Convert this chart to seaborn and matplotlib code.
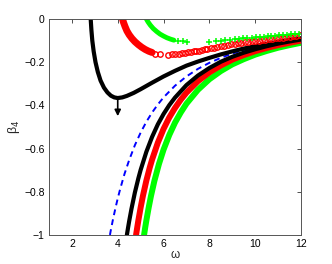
import matplotlib
matplotlib.use("Agg")
import matplotlib.pyplot as plt
import seaborn as sns

# lower branches
blue_x = [3.66, 3.7, 3.8, 3.9, 4.0, 4.1, 4.25, 4.3, 4.5, 4.75, 5.0, 5.25, 5.5, 5.75, 6.0, 6.5, 7.0, 7.5,
          8.0, 8.5, 9.0, 9.5, 10.0, 10.5, 11.0, 11.5, 12.0]
blue_y = [-1.0, -0.977, -0.924, -0.876, -0.831, -0.790, -0.734, -0.716, -0.653, -0.584, -0.526, -0.476,
          -0.433, -0.396, -0.363, -0.309, -0.266, -0.231, -0.203, -0.180, -0.160, -0.144, -0.130, -0.118,
          -0.107, -0.098, -0.090]

black_lo_x = [4.40, 4.45, 4.5, 4.6, 4.75, 4.9, 5.0, 5.25, 5.5, 5.75, 6.0, 6.25, 6.5, 7.0, 7.5, 8.0, 8.5,
              9.0, 9.5, 10.0, 10.5, 11.0, 11.5, 12.0]
black_lo_y = [-1.0, -0.967, -0.936, -0.879, -0.803, -0.738, -0.699, -0.615, -0.546, -0.488, -0.440, -0.399,
              -0.364, -0.306, -0.262, -0.227, -0.198, -0.175, -0.156, -0.140, -0.126, -0.114, -0.104, -0.095]

red_lo_x = [4.80, 4.85, 4.9, 5.0, 5.1, 5.25, 5.4, 5.5, 5.75, 6.0, 6.25, 6.5, 6.75, 7.0, 7.5, 8.0, 8.5,
            9.0, 9.5, 10.0, 10.5, 11.0, 11.5, 12.0]
red_lo_y = [-1.0, -0.966, -0.933, -0.873, -0.819, -0.748, -0.687, -0.651, -0.573, -0.509, -0.456, -0.412,
            -0.374, -0.341, -0.288, -0.247, -0.215, -0.188, -0.167, -0.149, -0.134, -0.121, -0.110, -0.100]

green_lo_x = [5.15, 5.2, 5.25, 5.35, 5.45, 5.6, 5.8, 6.0, 6.25, 6.5, 6.75, 7.0, 7.5, 8.0, 8.5, 9.0, 9.5,
              10.0, 10.5, 11.0, 11.5, 12.0]
green_lo_y = [-1.0, -0.965, -0.933, -0.874, -0.820, -0.750, -0.671, -0.605, -0.537, -0.480, -0.433, -0.392,
              -0.328, -0.279, -0.241, -0.210, -0.186, -0.165, -0.148, -0.133, -0.121, -0.110]

# upper branches
black_up_x = [2.82, 2.85, 2.89, 2.95, 3.03, 3.13, 3.25, 3.4, 3.55, 3.7, 3.85, 4.0, 4.2, 4.4, 4.7, 5.0,
              5.5, 6.0, 6.5, 7.0, 7.5, 8.0, 8.5, 9.0, 9.5, 10.0, 10.5, 11.0, 11.5, 12.0]
black_up_y = [0.0, -0.05, -0.10, -0.15, -0.20, -0.245, -0.285, -0.318, -0.340, -0.355, -0.363, -0.366,
              -0.363, -0.356, -0.342, -0.325, -0.295, -0.266, -0.240, -0.216, -0.197, -0.180, -0.164,
              -0.150, -0.137, -0.126, -0.115, -0.106, -0.097, -0.089]

red_up_x = [4.21, 4.25, 4.32, 4.4, 4.5, 4.62, 4.75, 4.9, 5.05, 5.2, 5.35, 5.5]
red_up_y = [0.0, -0.015, -0.035, -0.055, -0.073, -0.09, -0.105, -0.119, -0.131, -0.141, -0.149, -0.155]
red_o_x = [5.64, 5.85, 6.18, 6.36, 6.52, 6.67, 6.81, 6.94, 7.07, 7.19, 7.31, 7.43, 7.55, 7.67, 7.79, 7.91,
           8.05, 8.2, 8.35, 8.5, 8.65, 8.8, 8.95, 9.1, 9.25, 9.4, 9.55, 9.7, 9.85, 10.0, 10.15, 10.3,
           10.45, 10.6, 10.75, 10.9, 11.05, 11.2, 11.35, 11.5, 11.65, 11.8, 11.95]
red_o_y = [-0.160, -0.163, -0.165, -0.164, -0.162, -0.160, -0.158, -0.156, -0.154, -0.152, -0.150, -0.148,
           -0.146, -0.144, -0.141, -0.139, -0.136, -0.133, -0.130, -0.127, -0.124, -0.121, -0.118, -0.116,
           -0.113, -0.111, -0.108, -0.106, -0.104, -0.102, -0.100, -0.098, -0.096, -0.094, -0.092, -0.090,
           -0.088, -0.086, -0.084, -0.082, -0.080, -0.078, -0.076]

green_up_x = [5.25, 5.32, 5.42, 5.55, 5.7, 5.85, 6.0, 6.15, 6.3, 6.45]
green_up_y = [0.0, -0.013, -0.028, -0.044, -0.058, -0.07, -0.079, -0.087, -0.093, -0.098]
green_p_x = [6.65, 6.84, 7.04, 8.0, 8.29, 8.5, 8.7, 8.9, 9.1, 9.3, 9.48, 9.66, 9.84, 10.02, 10.2, 10.37,
             10.54, 10.71, 10.88, 11.05, 11.22, 11.39, 11.56, 11.73, 11.9]
green_p_y = [-0.102, -0.104, -0.105, -0.106, -0.103, -0.100, -0.098, -0.096, -0.094, -0.092, -0.090, -0.088,
             -0.086, -0.084, -0.083, -0.081, -0.080, -0.078, -0.077, -0.075, -0.074, -0.072, -0.071, -0.070, -0.068]

arrow_start = (4.0, -0.366)
arrow_end = (4.0, -0.45)

x_ticks = [2, 4, 6, 8, 10, 12]
y_ticks = [-1, -0.8, -0.6, -0.4, -0.2, 0]
y_labels = ['\u22121', '\u22120.8', '\u22120.6', '\u22120.4', '\u22120.2', '0']

sns.set_style('white')
plt.rcParams['font.family'] = ['Liberation Sans', 'DejaVu Sans']

fig = plt.figure(figsize=(3.32, 2.64), dpi=100)
ax = fig.add_axes([0.1476, 0.110, 0.759, 0.818])

kw = dict(estimator=None, sort=False, legend=False, ax=ax)
sns.lineplot(x=blue_x, y=blue_y, color='#0000ff', lw=1.4, dashes=False, linestyle=(0, (3, 2.2)), **kw)
sns.lineplot(x=green_lo_x, y=green_lo_y, color='#00ff00', lw=4.3, **kw)
sns.lineplot(x=red_lo_x, y=red_lo_y, color='#ff0000', lw=4.3, **kw)
sns.lineplot(x=black_lo_x, y=black_lo_y, color='black', lw=3, **kw)
sns.lineplot(x=black_up_x, y=black_up_y, color='black', lw=3, **kw)
sns.lineplot(x=red_up_x, y=red_up_y, color='#ff0000', lw=5, solid_capstyle='round', **kw)
sns.lineplot(x=red_o_x, y=red_o_y, color='#ff0000', linestyle='', marker='o', markersize=3.9,
             markerfacecolor='none', markeredgecolor='#ff0000', markeredgewidth=1, **kw)
sns.lineplot(x=green_up_x, y=green_up_y, color='#00ff00', lw=3.5, **kw)
sns.lineplot(x=green_p_x, y=green_p_y, color='#00ff00', linestyle='', marker='+', markersize=4.5,
             markeredgecolor='#00ff00', markeredgewidth=1.1, **kw)

ax.annotate('', xy=arrow_end, xytext=arrow_start,
            arrowprops=dict(arrowstyle='-|>', color='black', lw=1.2, mutation_scale=9, shrinkA=0, shrinkB=0))

ax.set_xlim(1, 12)
ax.set_ylim(-1, 0)
ax.set_xticks(x_ticks)
ax.set_yticks(y_ticks)
ax.set_yticklabels(y_labels)
ax.tick_params(direction='in', length=3, width=0.6, top=True, right=True, labelsize=7.5,
               colors='#333333', labelcolor='black', pad=3)
for s in ax.spines.values():
    s.set_visible(True)
    s.set_color('#555555')
    s.set_linewidth(0.7)

ax.set_xlabel('\u03c9', fontsize=8.5, labelpad=0)
ax.set_ylabel('\u03b2$_4$', fontsize=9, labelpad=2)

fig.savefig('out.png', dpi=100)
